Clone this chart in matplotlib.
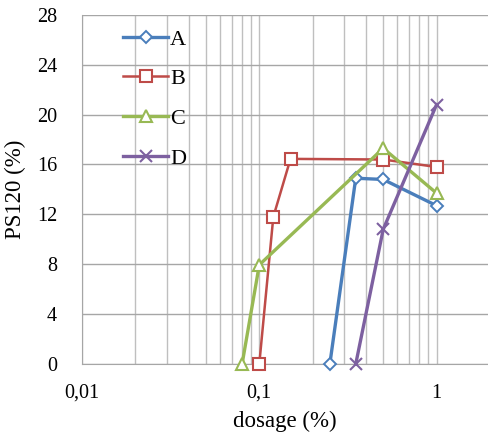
import numpy as np
import matplotlib.pyplot as plt
from matplotlib.ticker import FixedLocator, FixedFormatter, LogLocator, NullFormatter

plt.rcParams['font.family'] = ['Liberation Serif', 'DejaVu Serif']

# dosage (%) and PS120 (%)
dose_A = [0.25, 0.35, 0.5, 1.0]
ps_A = [0.0, 14.9, 14.8, 12.7]
dose_B = [0.1, 0.12, 0.15, 0.5, 1.0]
ps_B = [0.0, 11.8, 16.45, 16.4, 15.8]
dose_C = [0.08, 0.1, 0.5, 1.0]
ps_C = [0.0, 7.95, 17.3, 13.7]
dose_D = [0.35, 0.5, 1.0]
ps_D = [0.0, 10.8, 20.8]

x_ticks = [0.01, 0.1, 1]
x_tick_labels = ["0,01", "0,1", "1"]
y_ticks = list(range(0, 29, 4))

fig = plt.figure(figsize=(4.88, 4.36), dpi=100)
ax = fig.add_axes([0.168, 0.165, 0.832, 0.801])

ax.plot(dose_A, ps_A, color='#4A7EBB', lw=2.4, marker='D', ms=6, mfc='white', mew=1.4, label='A', clip_on=False, zorder=3)
ax.plot(dose_B, ps_B, color='#BE4B48', lw=1.8, marker='s', ms=9, mfc='white', mew=1.5, label='B', clip_on=False, zorder=3)
ax.plot(dose_C, ps_C, color='#98B954', lw=2.4, marker='^', ms=9, mfc='white', mew=1.5, label='C', clip_on=False, zorder=3)
ax.plot(dose_D, ps_D, color='#7D60A0', lw=2.4, marker='x', ms=9, mew=1.5, label='D', clip_on=False, zorder=3)

ax.set_xscale('log')
ax.set_xlim(0.01, 1.95)
ax.set_ylim(0, 28)
ax.xaxis.set_major_locator(FixedLocator(x_ticks))
ax.xaxis.set_major_formatter(FixedFormatter(x_tick_labels))
ax.xaxis.set_minor_locator(LogLocator(base=10, subs=np.arange(2, 10)))
ax.xaxis.set_minor_formatter(NullFormatter())
ax.set_yticks(y_ticks)

ax.grid(True, which='both', axis='x', color='#BFBFBF', lw=1.0)
ax.grid(True, which='major', axis='y', color='#A6A6A6', lw=1.0)
ax.set_axisbelow(True)

for s in ['top', 'right']:
    ax.spines[s].set_visible(False)
for s in ['left', 'bottom']:
    ax.spines[s].set_color('#A6A6A6')
ax.tick_params(which='both', length=0, labelsize=14.5)
ax.tick_params(axis='x', pad=14)
ax.tick_params(axis='y', pad=18)

ax.set_xlabel("dosage (%)", fontsize=16.5, labelpad=6)
ax.set_ylabel("PS120 (%)", fontsize=16.5, labelpad=8)

ax.legend(loc='upper left', bbox_to_anchor=(0.08, 0.985), frameon=False, fontsize=16,
          handlelength=2.0, handletextpad=0.1, labelspacing=0.86, borderaxespad=0)

fig.savefig('out.png', dpi=100)
